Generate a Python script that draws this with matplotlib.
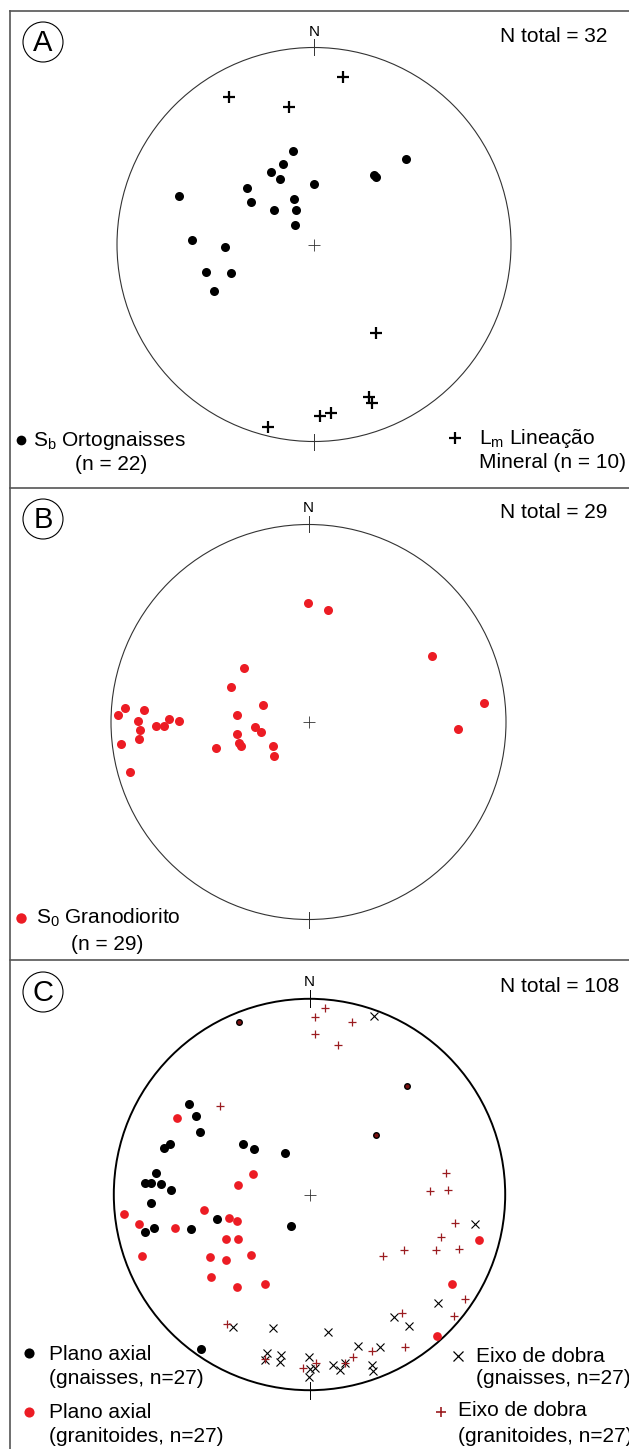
import matplotlib
matplotlib.use('Agg')
from matplotlib import pyplot as plt
from matplotlib import patches, transforms

plt.rcParams['font.family'] = ['Liberation Sans', 'DejaVu Sans']
plt.rcParams['mathtext.default'] = 'regular'

# --- A: ortognaisses (projected coordinates, unit net radius) ---
a_sb_e = [-0.106, -0.157, -0.218, -0.173, 0.002, -0.340, -0.322, -0.102, -0.202, -0.090,
          -0.098, -0.686, -0.621, -0.450, -0.548, -0.423, -0.509, 0.307, 0.313, 0.466]
a_sb_n = [0.476, 0.407, 0.366, 0.334, 0.306, 0.285, 0.217, 0.232, 0.174, 0.174,
          0.101, 0.245, 0.021, -0.014, -0.141, -0.146, -0.238, 0.351, 0.344, 0.434]
a_lm_e = [0.148, -0.434, -0.126, 0.313, 0.281, 0.295, 0.028, 0.087, -0.235]
a_lm_n = [0.849, 0.747, 0.698, -0.451, -0.776, -0.806, -0.871, -0.854, -0.925]

# --- B: granodiorito ---
b_s0_e = [-0.001, 0.099, 0.624, 0.887, 0.758, -0.328, -0.390, -0.230, -0.364, -0.269,
          -0.241, -0.362, -0.350, -0.344, -0.466, -0.179, -0.173, -0.965, -0.927, -0.831,
          -0.862, -0.707, -0.655, -0.770, -0.730, -0.852, -0.858, -0.949, -0.902]
b_s0_n = [0.601, 0.569, 0.334, 0.096, -0.037, 0.275, 0.177, 0.088, 0.035, -0.024,
          -0.049, -0.059, -0.108, -0.122, -0.130, -0.123, -0.171, 0.037, 0.069, 0.061,
          0.004, 0.015, 0.004, -0.022, -0.020, -0.041, -0.088, -0.111, -0.253]

# --- C: plano axial / eixo de dobra ---
c_pa_gn_e = [-0.616, -0.582, -0.557, -0.715, -0.744, -0.338, -0.283, -0.125, -0.784, -0.840,
             -0.809, -0.760, -0.709, -0.811, -0.795, -0.840, -0.608, -0.471, -0.094, -0.553]
c_pa_gn_n = [0.462, 0.403, 0.319, 0.260, 0.239, 0.260, 0.234, 0.211, 0.108, 0.057,
             0.059, 0.052, 0.023, -0.043, -0.170, -0.193, -0.175, -0.127, -0.161, -0.791]
c_pa_gn2_e = [-0.360, 0.500, 0.338]
c_pa_gn2_n = [0.883, 0.554, 0.306]
c_pa_gr_e = [-0.678, -0.289, -0.364, -0.950, -0.539, -0.411, -0.368, -0.869, -0.688, -0.428,
             -0.364, -0.856, -0.510, -0.428, -0.297, -0.502, -0.370, -0.225, 0.868, 0.728, 0.650]
c_pa_gr_n = [0.389, 0.103, 0.050, -0.101, -0.078, -0.119, -0.134, -0.152, -0.173, -0.227,
             -0.227, -0.313, -0.319, -0.335, -0.308, -0.422, -0.473, -0.457, -0.232, -0.457, -0.722]
c_ed_gn_e = [0.330, 0.847, 0.658, 0.433, 0.506, -0.392, -0.185, 0.096, 0.249, 0.360,
             -0.219, -0.146, -0.151, -0.227, -0.003, 0.122, 0.156, 0.318, 0.326, 0.003,
             0.028, -0.003, 0.181]
c_ed_gn_n = [0.914, -0.151, -0.554, -0.624, -0.672, -0.679, -0.684, -0.701, -0.773, -0.781,
             -0.811, -0.820, -0.854, -0.846, -0.830, -0.871, -0.898, -0.871, -0.900, -0.892,
             -0.888, -0.933, -0.863]
c_ed_gr_e = [0.080, 0.029, 0.217, 0.027, 0.146, -0.459, 0.698, 0.617, 0.706, 0.745,
             0.672, 0.762, 0.646, 0.484, 0.374, 0.793, 0.738, 0.473, 0.488, -0.420,
             0.321, 0.224, 0.181, -0.227, 0.032, -0.035]
c_ed_gr_n = [0.951, 0.907, 0.880, 0.819, 0.764, 0.452, 0.108, 0.019, 0.021, -0.144,
             -0.219, -0.277, -0.284, -0.284, -0.313, -0.534, -0.619, -0.607, -0.781, -0.662,
             -0.800, -0.830, -0.863, -0.842, -0.861, -0.888]

RED = '#ec1c24'
DARKRED = '#9b1c20'
FRAME = '#555555'

# figure in pixel coordinates
fig = plt.figure(figsize=(6.29, 14.49), dpi=100)
ax = fig.add_axes([0, 0, 1, 1])
ax.set_xlim(0, 629)
ax.set_ylim(1449, 0)
ax.axis('off')

# frame lines
ax.plot([10, 629], [11, 11], color=FRAME, lw=1.2)
ax.plot([10, 10], [11, 1449], color=FRAME, lw=1.2)
ax.plot([10, 629], [488, 488], color=FRAME, lw=1.2)
ax.plot([10, 629], [960, 960], color=FRAME, lw=1.2)


def net(cx, cy, r, lw, color, letter, ly, total, ny):
    # unit net -> pixels
    tr = transforms.Affine2D().scale(r, -r).translate(cx, cy) + ax.transData
    ax.add_patch(patches.Circle((0, 0), 1, transform=tr, fill=False, lw=lw, ec=color))
    ax.plot([0, 0], [0.96, 1.045], color=color, lw=0.7, transform=tr)
    ax.plot([0, 0], [-0.96, -1.045], color=color, lw=0.7, transform=tr)
    ax.plot([0], [0], marker='+', ms=9, mew=0.6, color='#333333', transform=tr)
    ax.text(cx, ny, 'N', fontsize=11, ha='center', va='center')
    # panel letter
    ax.add_patch(patches.Circle((43, ly), 20, fill=False, lw=0.8, ec='black'))
    ax.text(43, ly + 1, letter, fontsize=21, ha='center', va='center')
    ax.text(500, ly - 6, 'N total = ' + total, fontsize=15, ha='left', va='center')
    return tr


# A
tr = net(314, 244.5, 197, 0.8, '#333333', 'A', 42, '32', 32)
ax.plot(a_sb_e, a_sb_n, 'o', color='black', ms=6.5, mew=0, transform=tr)
ax.plot(a_lm_e, a_lm_n, '+', color='black', ms=8, mew=1.6, transform=tr)
ax.plot([21], [440], 'o', color='black', ms=7, mew=0)
ax.text(33, 440, 'S$_b$ Ortognaisses', fontsize=15, va='center')
ax.text(75, 464, '(n = 22)', fontsize=15, va='center')
ax.plot([455], [438], '+', color='black', ms=8, mew=1.6)
ax.text(479, 438, 'L$_m$ Lineação', fontsize=15, va='center')
ax.text(479, 462, 'Mineral (n = 10)', fontsize=15, va='center')

# B
tr = net(308.5, 722, 197.5, 0.8, '#333333', 'B', 519, '29', 508)
ax.plot(b_s0_e, b_s0_n, 'o', color=RED, ms=6.5, mew=0, transform=tr)
ax.plot([21], [918], 'o', color=RED, ms=7.5, mew=0)
ax.text(36, 918, 'S$_0$ Granodiorito', fontsize=15, va='center')
ax.text(71, 945, '(n = 29)', fontsize=15, va='center')

# C
tr = net(309.5, 1194.5, 195.7, 1.4, 'black', 'C', 992, '108', 982)
ax.plot(c_pa_gn_e, c_pa_gn_n, 'o', color='black', ms=6.5, mew=0, transform=tr)
ax.plot(c_pa_gn2_e, c_pa_gn2_n, 'o', mfc='#7a1010', mec='black', ms=4, mew=1.0, transform=tr)
ax.plot(c_pa_gr_e, c_pa_gr_n, 'o', color=RED, ms=6.3, mew=0, transform=tr)
ax.plot(c_ed_gn_e, c_ed_gn_n, 'x', color='black', ms=6, mew=0.8, transform=tr)
ax.plot(c_ed_gr_e, c_ed_gr_n, '+', color=DARKRED, ms=6, mew=0.9, transform=tr)

ax.plot([29], [1353], 'o', color='black', ms=7.3, mew=0)
ax.text(49, 1355, 'Plano axial', fontsize=15, va='center')
ax.text(49, 1378, '(gnaisses, n=27)', fontsize=15, va='center')
ax.plot([29], [1412], 'o', color=RED, ms=7.3, mew=0)
ax.text(49, 1413, 'Plano axial', fontsize=15, va='center')
ax.text(49, 1437, '(granitoides, n=27)', fontsize=15, va='center')
ax.plot([458], [1356], 'x', color='black', ms=7, mew=0.9)
ax.text(476, 1356, 'Eixo de dobra', fontsize=15, va='center')
ax.text(476, 1379, '(gnaisses, n=27)', fontsize=15, va='center')
ax.plot([441], [1412], '+', color=DARKRED, ms=7, mew=1.2)
ax.text(458, 1411, 'Eixo de dobra', fontsize=15, va='center')
ax.text(458, 1436, '(granitoides, n=27)', fontsize=15, va='center')

fig.savefig('out.png', dpi=100)
